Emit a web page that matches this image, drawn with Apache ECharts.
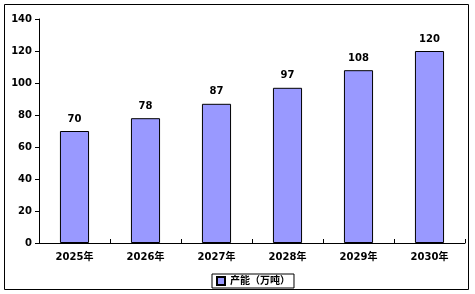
<!DOCTYPE html>
<html><head><meta charset="utf-8">
<script src="https://cdn.jsdelivr.net/npm/echarts@6/dist/echarts.min.js"></script>
<style>html,body{margin:0;padding:0;background:#fff}#c{width:475px;height:294px}</style>
</head><body><div id="c"></div>
<script>
var categories = ['2025年','2026年','2027年','2028年','2029年','2030年'];
var capacity = [70, 78, 87, 97, 108, 120];
var seriesName = '产能（万吨）';
var yTicks = {min: 0, max: 140, interval: 20};

var chart = echarts.init(document.getElementById('c'), null, {renderer: 'canvas'});
var font = '"DejaVu Sans", "Noto Sans CJK SC", sans-serif';
chart.setOption({
  animation: false,
  textStyle: {fontFamily: font},
  graphic: [{type: 'rect', shape: {x: 4.5, y: 4.5, width: 464, height: 285}, style: {fill: 'none', stroke: '#000', lineWidth: 1}, silent: true}],
  grid: {left: 39, right: 10, top: 19, bottom: 51, containLabel: false},
  legend: {
    bottom: 6, left: 212, data: [seriesName], itemWidth: 8, itemHeight: 8, itemGap: 4,
    icon: 'rect', borderColor: '#000', borderWidth: 1, padding: [2, 4, 2, 4],
    textStyle: {fontSize: 10, fontWeight: 'bold', color: '#000', fontFamily: font}
  },
  xAxis: {
    type: 'category', data: categories,
    axisLine: {lineStyle: {color: '#000', width: 1}},
    axisTick: {show: true, length: 4, inside: true, lineStyle: {color: '#000'}},
    axisLabel: {color: '#000', fontSize: 10, fontWeight: 'bold', margin: 9, fontFamily: font}
  },
  yAxis: {
    type: 'value', min: yTicks.min, max: yTicks.max, interval: yTicks.interval,
    axisLine: {show: true, lineStyle: {color: '#000', width: 1}},
    axisTick: {show: true, length: 4, lineStyle: {color: '#000'}},
    splitLine: {show: false},
    axisLabel: {color: '#000', fontSize: 10, fontWeight: 'bold', margin: 7, fontFamily: font}
  },
  series: [{
    name: seriesName, type: 'bar', data: capacity, barWidth: '41%',
    itemStyle: {color: '#9999FF', borderColor: '#000', borderWidth: 1},
    label: {show: true, position: 'top', distance: 7, color: '#000', fontSize: 10, fontWeight: 'bold', fontFamily: font}
  }]
});
</script></body></html>
